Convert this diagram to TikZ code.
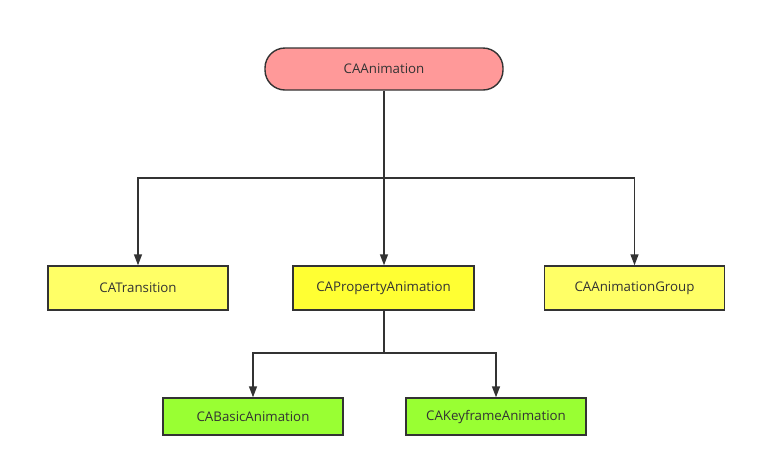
\documentclass[tikz,border=0pt]{standalone}
\usepackage{fontspec}
\setmainfont{Open Sans}
\usetikzlibrary{arrows.meta}
\definecolor{pinkfill}{HTML}{FF9999}
\definecolor{yelfill}{HTML}{FFFF66}
\definecolor{yelbright}{HTML}{FFFF33}
\definecolor{grnfill}{HTML}{99FF33}
\definecolor{edge}{HTML}{333333}
\tikzset{
  box/.style={draw=edge, line width=1.4pt, minimum width=180pt, minimum height=44pt, inner sep=0pt,
    font=\fontsize{13.3}{15}\selectfont, text=edge},
  conn/.style={draw=edge, line width=1.4pt, -{Triangle[length=11pt,width=8pt]}},
  plain/.style={draw=edge, line width=1.4pt}
}
\begin{document}
\begin{tikzpicture}[x=1pt,y=-1pt]
\useasboundingbox (0,0) rectangle (757,467);
\node[box, fill=pinkfill, minimum width=238pt, minimum height=42pt, rounded corners=20pt] (root) at (384,69) {CAAnimation};
\node[box, fill=yelfill] (trans) at (138,288) {CATransition};
\node[box, fill=yelbright, minimum width=181pt] (prop) at (383.5,288) {CAPropertyAnimation};
\node[box, fill=yelfill] (group) at (634.5,288) {CAAnimationGroup};
\node[box, fill=grnfill, minimum height=37pt] (basic) at (253,416.5) {CABasicAnimation};
\node[box, fill=grnfill, minimum height=37pt] (key) at (496,416.5) {CAKeyframeAnimation};
\coordinate (j1) at (384,178);
\coordinate (j2) at (384,353);
\draw[plain] (root.south) -- (j1);
\draw[conn] (j1) -- (root.south |- trans.north);
\draw[conn] (j1) -| (trans.north);
\draw[conn] (j1) -| (group.north);
\draw[plain] (prop.south -| j2) -- (j2);
\draw[conn] (j2) -| (basic.north);
\draw[conn] (j2) -| (key.north);
\end{tikzpicture}
\end{document}
